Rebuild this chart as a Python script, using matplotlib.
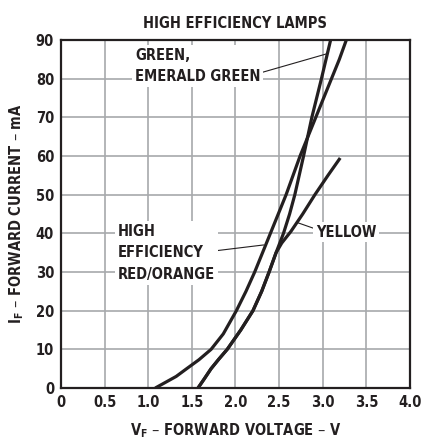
import numpy as np
import matplotlib.pyplot as plt

# (forward voltage V, forward current mA)
red_v = [1.08, 1.20, 1.32, 1.44, 1.58, 1.72, 1.86, 2.01, 2.12, 2.22, 2.31, 2.40, 2.49, 2.58, 2.66, 2.74, 2.83, 2.92, 3.01, 3.10, 3.19, 3.27]
red_i = [0, 1.5, 3.0, 5.0, 7.3, 10, 14, 20, 25, 30, 35, 40, 45, 50, 55, 60, 65, 70, 75, 80, 85, 90]

green_v = [1.57, 1.64, 1.72, 1.81, 1.905, 2.06, 2.20, 2.30, 2.385, 2.465, 2.55, 2.62, 2.68, 2.73, 2.78, 2.875, 2.985, 3.09]
green_i = [0, 2.3, 5.0, 7.5, 10, 15, 20, 25, 30, 35, 40, 45, 50, 55, 60, 70, 80, 90]

yellow_v = [1.57, 1.64, 1.72, 1.81, 1.905, 2.06, 2.20, 2.30, 2.385, 2.465, 2.53, 2.635, 2.77, 2.91, 3.06, 3.20]
yellow_i = [0, 2.3, 5.0, 7.5, 10, 15, 20, 25, 30, 35, 37.5, 40.5, 45, 50, 55, 59.5]

xticks = [0, 0.5, 1.0, 1.5, 2.0, 2.5, 3.0, 3.5, 4.0]
xlabels = ['0', '0.5', '1.0', '1.5', '2.0', '2.5', '3.0', '3.5', '4.0']
yticks = [0, 10, 20, 30, 40, 50, 60, 70, 80, 90]

ink = '#231f20'
plt.rcParams['font.family'] = ['DejaVu Sans']
plt.rcParams['font.stretch'] = 'condensed'
plt.rcParams['font.weight'] = 'bold'
plt.rcParams['mathtext.default'] = 'regular'

fig = plt.figure(figsize=(4.25, 4.45), dpi=100)
ax = fig.add_axes([0.1435, 0.128, 0.8212, 0.782])

ax.plot(red_v, red_i, color=ink, lw=2.3, solid_capstyle='butt', zorder=3)
ax.plot(green_v, green_i, color=ink, lw=2.3, solid_capstyle='butt', zorder=3)
ax.plot(yellow_v, yellow_i, color=ink, lw=2.3, solid_capstyle='butt', zorder=3)

ax.set_xlim(0, 4.0)
ax.set_ylim(0, 90)
ax.set_xticks(xticks)
ax.set_xticklabels(xlabels)
ax.set_yticks(yticks)
ax.grid(True, color='#a7a9ac', lw=1.2)
ax.set_axisbelow(True)
for s in ax.spines.values():
    s.set_linewidth(1.6)
    s.set_color(ink)
ax.tick_params(length=0, labelsize=10.5, colors=ink, pad=5)
for lab in ax.get_xticklabels() + ax.get_yticklabels():
    lab.set_fontweight('bold')

ax.set_title('HIGH EFFICIENCY LAMPS', fontsize=10.5, fontweight='bold', color=ink, pad=9)
ax.set_xlabel(r'V$_\mathregular{F}$ – FORWARD VOLTAGE – V', fontsize=10.5,
              fontweight='bold', color=ink, labelpad=8)
ax.set_ylabel(r'I$_\mathregular{F}$ – FORWARD CURRENT – mA', fontsize=10.5,
              fontweight='bold', color=ink, labelpad=7)

box = dict(facecolor='white', edgecolor='none', pad=2)
# leader lines
ax.plot([2.16, 3.04], [80.7, 86.4], color=ink, lw=0.8, zorder=4)
ax.plot([1.59, 2.32], [35, 37], color=ink, lw=0.8, zorder=4)
ax.plot([2.91, 2.72], [41.2, 42.7], color=ink, lw=0.8, zorder=4)

ax.text(0.85, 88.0, 'GREEN,\nEMERALD GREEN', fontsize=10.5, fontweight='bold',
        color=ink, va='top', ha='left', linespacing=1.55, bbox=box, zorder=5)
ax.text(0.65, 42.5, 'HIGH\nEFFICIENCY\nRED/ORANGE', fontsize=10.5, fontweight='bold',
        color=ink, va='top', ha='left', linespacing=1.55, bbox=box, zorder=5)
ax.text(2.92, 40.3, 'YELLOW', fontsize=10.5, fontweight='bold',
        color=ink, va='center', ha='left', bbox=box, zorder=5)

fig.savefig('out.png', dpi=100)
